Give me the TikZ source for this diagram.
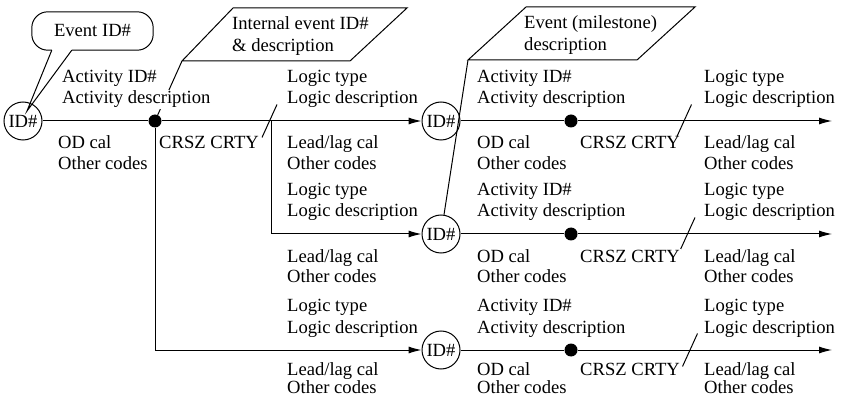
\documentclass[tikz,border=0pt]{standalone}
\usepackage{fontspec}
\setmainfont{Liberation Serif}
\usetikzlibrary{arrows.meta}
\usetikzlibrary{calc}

\tikzset{
  evt/.style = {draw, circle, fill=white, line width=1pt, minimum size=38pt, inner sep=0pt},
  knot/.style = {circle, fill=black, minimum size=13pt, inner sep=0pt},
  txt/.style = {anchor=base west, fill=white, inner sep=1pt},
  flow/.style = {line width=1pt, -{Latex[length=13pt,width=7pt]}},
  stroke/.style = {line width=1pt, line join=miter}
}

\begin{document}
\begin{tikzpicture}[x=1pt, y=-1pt, font=\fontsize{18.6}{22}\selectfont]
    \useasboundingbox (0,0) rectangle (841,398);

    % events and knots
    \node[evt] (id0) at (23,121) {ID\#};
    \node[knot] (d0) at (155,121) {};
    \foreach \r/\y in {1/121, 2/234, 3/350} {
      \node[evt] (id\r) at (441,\y) {ID\#};
      \node[knot] (d\r) at (571,\y) {};
      \coordinate (e\r) at (832,\y);
    }
    \coordinate (br) at (271,121);
    \coordinate (tip) at (27,111);

    % callout and parallelograms
    \node[minimum width=121pt, minimum height=38pt, inner sep=0pt] (evtid) at (92.5,31) {Event ID\#};
    \draw[stroke, rounded corners=16pt] ($(evtid.south west)+(20,0)$) -- (evtid.south west) -- (evtid.north west)
      -- (evtid.north east) -- (evtid.south east) -- ($(evtid.south west)+(40,0)$);
    \draw[stroke] ($(evtid.south west)+(20,0)$) -- (tip) -- ($(evtid.south west)+(40,0)$);

    \coordinate (pe1) at (182,61);
    \draw[stroke] (pe1) -- (233,8) -- (407,8) -- (350,61) -- cycle;
    \node[anchor=west, align=left, inner sep=1pt] (pe1t) at (231,36) {Internal event ID\#\\\& description};
    \coordinate (pe2) at (468,60);
    \draw[stroke] (pe2) -- (526,7) -- (695,7) -- (637,60) -- cycle;
    \node[anchor=west, align=left, inner sep=1pt] (pe2t) at (523,35) {Event (milestone)\\description};

    % arrows
    \draw[flow] (id0) -- (d0) -- (id1);
    \draw[flow] (d0) |- (id3);
    \draw[flow] (br) |- (id2);
    \foreach \r in {1,2,3}
      \draw[flow] (id\r) -- (d\r) -- (e\r);
    \draw[stroke] (pe1) -- (d0);
    \draw[stroke] (pe2) -- (id2);

    \foreach \x/\y in {269.5/121, 684/121, 687.5/234, 690/350}
      \draw[stroke] (\x+7.5,\y-16.5) -- (\x-7.5,\y+16.5);

    % labels
    \node[txt] (a0) at (61,83) {Activity ID\#};
    \node[txt] (ad0) at (61,104) {Activity description};
    \node[txt] (od0) at (57,149) {OD cal};
    \node[txt] (oc0) at (57,170) {Other codes};
    \node[txt] (cr0) at (158,149) {CRSZ CRTY};

    \foreach \r/\y/\u/\v in {1/121/28/49, 2/234/28/49, 3/350/25/43} {
      \node[txt] (lt\r) at (286,\y-38) {Logic type};
      \node[txt] (ld\r) at (286,\y-17) {Logic description};
      \node[txt] (ll\r) at (286,\y+\u) {Lead/lag cal};
      \node[txt] (lo\r) at (286,\y+\v) {Other codes};
      \node[txt] (a\r) at (476,\y-38) {Activity ID\#};
      \node[txt] (ad\r) at (476,\y-17) {Activity description};
      \node[txt] (od\r) at (476,\y+\u) {OD cal};
      \node[txt] (oc\r) at (476,\y+\v) {Other codes};
      \node[txt] (cr\r) at (579,\y+\u) {CRSZ CRTY};
      \node[txt] (mt\r) at (703,\y-38) {Logic type};
      \node[txt] (md\r) at (703,\y-17) {Logic description};
      \node[txt] (ml\r) at (703,\y+\u) {Lead/lag cal};
      \node[txt] (mo\r) at (703,\y+\v) {Other codes};
    }

\end{tikzpicture}
\end{document}
